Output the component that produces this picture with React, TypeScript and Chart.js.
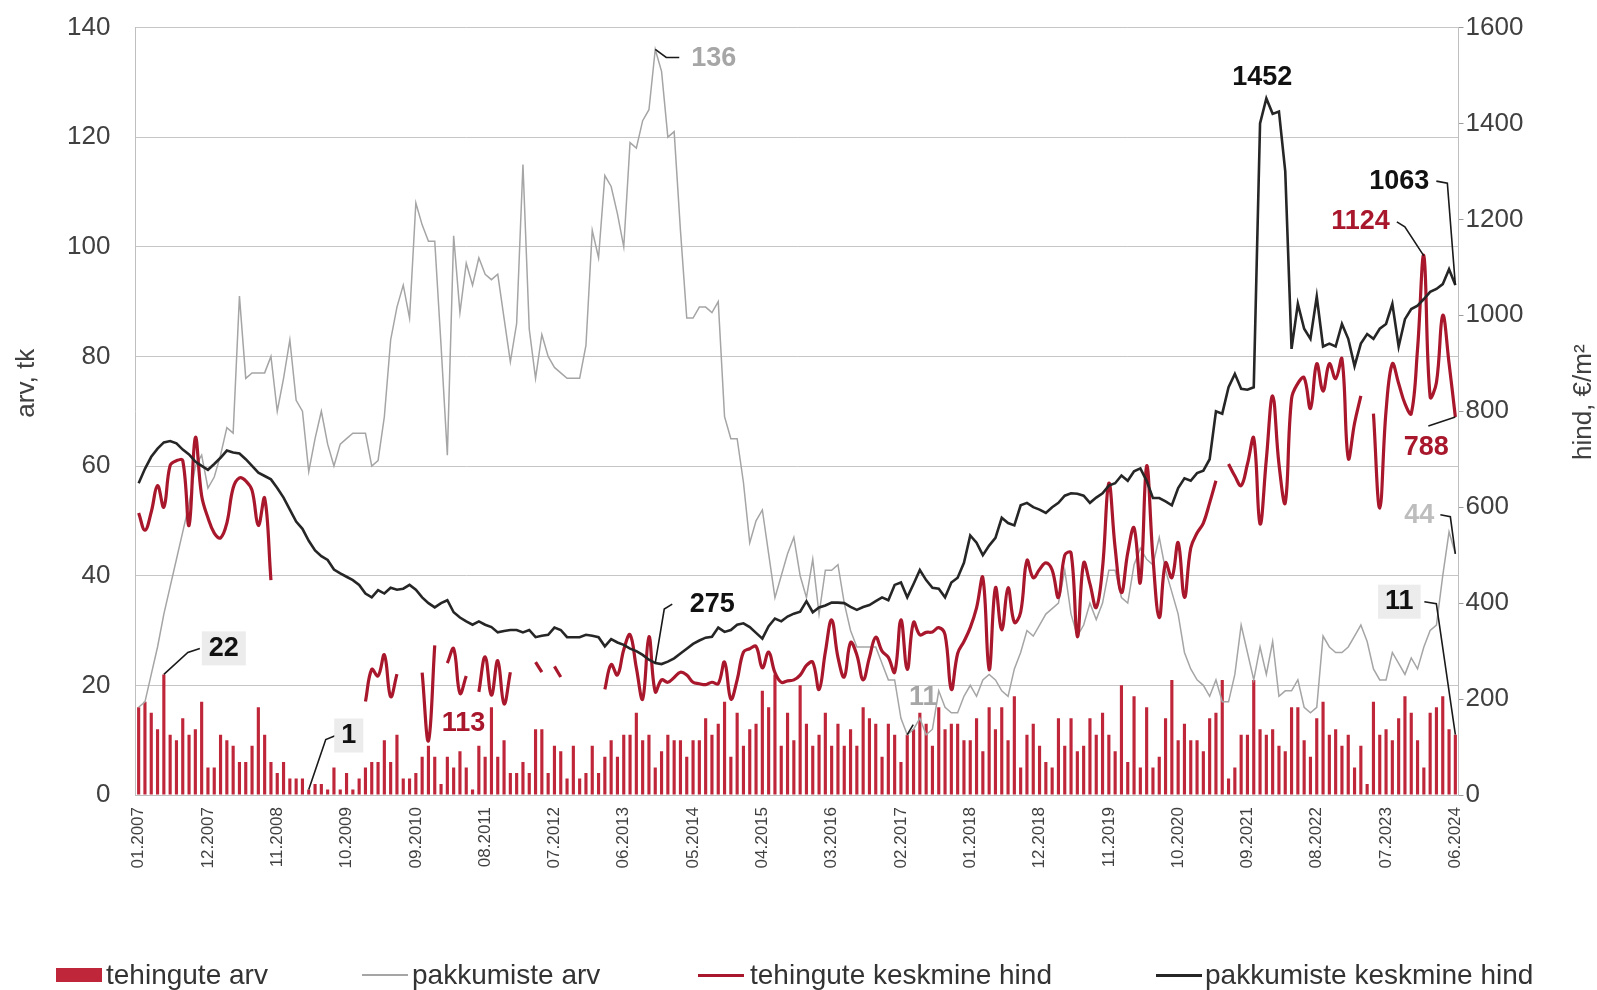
import React, { useEffect, useRef } from 'react';
import { Chart, registerables } from 'chart.js';

Chart.register(...registerables);

const FONT = "'Liberation Sans', Arial, Helvetica, sans-serif";

// Monthly categories 01.2007 .. 06.2024
const MONTHS: string[] = [];
for (let i = 0; i < 210; i++) {
  const m = (i % 12) + 1;
  const y = 2007 + Math.floor(i / 12);
  MONTHS.push(`${m < 10 ? '0' + m : m}.${y}`);
}

const TICK_LABELS = [
  '01.2007', '12.2007', '11.2008', '10.2009', '09.2010', '08.2011', '07.2012',
  '06.2013', '05.2014', '04.2015', '03.2016', '02.2017', '01.2018', '12.2018',
  '11.2019', '10.2020', '09.2021', '08.2022', '07.2023', '06.2024',
];

const LEFT_TITLE = 'arv, tk';
const RIGHT_TITLE = 'hind, €/m²';

// tehingute arv (bars, left axis)
const DEALS = [
  16, 17, 15, 12, 22, 11, 10, 14, 11, 12,
  17, 5, 5, 11, 10, 9, 6, 6, 9, 16,
  11, 6, 4, 6, 3, 3, 3, 1, 2, 2,
  1, 5, 1, 4, 1, 3, 5, 6, 6, 10,
  6, 11, 3, 3, 4, 7, 9, 7, 2, 7,
  5, 8, 5, 1, 9, 7, 16, 7, 10, 4,
  4, 6, 4, 12, 12, 4, 9, 8, 3, 9,
  3, 4, 9, 4, 7, 10, 7, 11, 11, 15,
  10, 11, 5, 8, 11, 10, 10, 7, 10, 10,
  14, 11, 13, 17, 7, 15, 9, 12, 13, 19,
  16, 22, 9, 15, 10, 20, 13, 9, 11, 15,
  9, 13, 9, 12, 9, 16, 14, 13, 7, 13,
  11, 6, 11, 12, 15, 13, 9, 16, 12, 13,
  13, 10, 10, 14, 8, 16, 12, 16, 10, 18,
  5, 11, 13, 9, 6, 5, 14, 9, 14, 8,
  9, 14, 11, 15, 11, 8, 20, 6, 18, 5,
  16, 5, 7, 14, 21, 10, 13, 10, 10, 8,
  14, 15, 21, 3, 5, 11, 11, 21, 12, 11,
  12, 9, 8, 16, 16, 10, 7, 14, 17, 11,
  12, 9, 11, 5, 9, 2, 17, 11, 12, 10,
  14, 18, 15, 10, 5, 15, 16, 18, 12, 11,
];

// pakkumiste arv (grey line, left axis)
const OFFERS = [
  16, 17, 22, 27, 33, 38, 43, 48, 53, 60,
  62, 56, 58, 62, 67, 66, 91, 76, 77, 77,
  77, 80, 70, 76, 83, 72, 70, 59, 65, 70,
  64, 60, 64, 65, 66, 66, 66, 60, 61, 69,
  83, 89, 93, 87, 108, 104, 101, 101, 82, 62,
  102, 88, 97, 93, 98, 95, 94, 95, 87, 79,
  86, 115, 85, 76, 84, 80, 78, 77, 76, 76,
  76, 82, 103, 98, 113, 111, 106, 100, 119, 118,
  123, 125, 136, 132, 120, 121, 103, 87, 87, 89,
  89, 88, 90, 69, 65, 65, 57, 46, 50, 52,
  44, 36, 40, 44, 47, 40, 36, 43, 33, 41,
  41, 42, 35, 30, 27, 27, 27, 27, 24, 21,
  21, 14, 11, 12, 14, 11, 12, 19, 16, 15,
  15, 18, 20, 18, 21, 22, 21, 19, 18, 23,
  26, 30, 29, 31, 33, 34, 35, 41, 33, 29,
  31, 35, 32, 35, 41, 41, 36, 35, 42, 45,
  43, 42, 47, 41, 37, 33, 26, 23, 21, 20,
  18, 21, 17, 17, 22, 31, 26, 21, 27, 22,
  28, 18, 19, 19, 21, 16, 15, 16, 29, 27,
  26, 26, 27, 29, 31, 28, 23, 21, 21, 26,
  24, 22, 25, 23, 27, 30, 31, 40, 48, 44,
];

// tehingute keskmine hind (red line, right axis), gaps = null
const DEAL_PRICE: (number | null)[] = [
  588, 552, 590, 645, 600, 687, 697, 697, 562, 745,
  624, 578, 546, 536, 567, 640, 661, 655, 635, 562,
  619, 448, null, null, null, null, null, null, null, null,
  null, null, null, null, null, null, 195, 262, 248, 292,
  205, 252, null, null, null, 255, 113, 312, null, 275,
  305, 212, 248, null, 215, 288, 208, 280, 190, 256,
  null, null, null, 277, 256, null, 268, 246, null, null,
  null, null, null, null, 220, 272, 250, 303, 334, 265,
  200, 330, 215, 240, 235, 245, 256, 250, 235, 232,
  230, 235, 232, 277, 200, 240, 298, 305, 310, 265,
  298, 255, 235, 238, 240, 250, 270, 277, 220, 298,
  365, 287, 246, 318, 292, 240, 287, 329, 300, 287,
  256, 365, 262, 360, 334, 339, 340, 349, 334, 220,
  295, 320, 349, 390, 453, 261, 432, 344, 432, 360,
  381, 489, 453, 470, 484, 469, 412, 500, 505, 330,
  484, 440, 391, 474, 650, 515, 422, 505, 557, 443,
  686, 495, 370, 484, 453, 526, 412, 515, 546, 567,
  609, 655, null, 690, 665, 645, 690, 744, 565, 700,
  832, 690, 609, 826, 858, 870, 806, 899, 842, 899,
  868, 909, 702, 775, 832, null, 795, 598, 801, 899,
  858, 816, 795, 930, 1124, 830, 860, 1000, 900, 788,
];

// pakkumiste keskmine hind (black line, right axis)
const OFFER_PRICE = [
  650, 680, 705, 722, 735, 738, 733, 720, 710, 695,
  686, 678, 690, 703, 718, 714, 712, 700, 686, 672,
  665, 658, 640, 620, 595, 570, 555, 530, 510, 498,
  490, 470, 462, 455, 448, 438, 420, 412, 427, 420,
  432, 428, 430, 438, 428, 412, 400, 391, 400, 406,
  381, 370, 362, 355, 362, 355, 350, 339, 342, 344,
  344, 339, 344, 329, 332, 334, 349, 344, 329, 329,
  329, 334, 332, 329, 310, 325, 318, 313, 305, 300,
  292, 282, 275, 273, 278, 285, 295, 305, 315, 322,
  328, 330, 349, 340, 344, 355, 358, 350, 338, 326,
  352, 368, 362, 372, 378, 382, 404, 381, 391, 395,
  401, 401, 400, 392, 386, 392, 396, 404, 412, 406,
  438, 443, 412, 440, 469, 448, 432, 430, 412, 443,
  453, 484, 541, 526, 500, 520, 536, 578, 567, 562,
  604, 609, 600, 595, 588, 600, 609, 624, 629, 628,
  624, 609, 620, 629, 645, 650, 666, 655, 675, 681,
  655, 619, 619, 612, 604, 640, 660, 655, 671, 676,
  700, 800, 795, 850, 878, 847, 845, 850, 1400, 1452,
  1420, 1425, 1300, 930, 1024, 972, 951, 1039, 935, 941,
  935, 982, 951, 894, 941, 961, 951, 972, 982, 1024,
  935, 992, 1013, 1020, 1034, 1049, 1055, 1065, 1096, 1063,
];

const C_BAR = '#bf2639';
const C_GRAY = '#a5a5a5';
const C_RED = '#a8172b';
const C_BLACK = '#262626';
const C_TEXT = '#404040';

type Note = {
  text: string; index: number; value: number; axis: 'y' | 'y1';
  color: string; dx: number; dy: number; align: 'left' | 'center' | 'right';
  leader?: number[][]; box?: boolean;
};

const NOTES: Note[] = [
  { text: '136', index: 82, value: OFFERS[82], axis: 'y', color: '#a6a6a6', dx: 36, dy: 9, align: 'left', leader: [[11, 8], [24, 8]] },
  { text: '1452', index: 179, value: OFFER_PRICE[179], axis: 'y1', color: '#111', dx: -4, dy: -21, align: 'center' },
  { text: '1063', index: 209, value: OFFER_PRICE[209], axis: 'y1', color: '#111', dx: -26, dy: -104, align: 'right', leader: [[-8, -102], [-19, -104]] },
  { text: '1124', index: 204, value: DEAL_PRICE[204] as number, axis: 'y1', color: C_RED, dx: -34, dy: -34, align: 'right', leader: [[-19, -29], [-27, -34]] },
  { text: '788', index: 209, value: DEAL_PRICE[209] as number, axis: 'y1', color: C_RED, dx: -29, dy: 31, align: 'center', leader: [[-27, 9]] },
  { text: '44', index: 209, value: OFFERS[209], axis: 'y', color: '#bdbdbd', dx: -36, dy: -38, align: 'center', leader: [[-5, -37], [-15, -39]] },
  { text: '11', index: 209, value: DEALS[209], axis: 'y', color: '#111', dx: -56, dy: -133, align: 'center', leader: [[-19, -131], [-31, -133]], box: true },
  { text: '22', index: 4, value: DEALS[4], axis: 'y', color: '#111', dx: 60, dy: -26, align: 'center', leader: [[24, -22], [36, -26]], box: true },
  { text: '1', index: 27, value: DEALS[27], axis: 'y', color: '#111', dx: 40, dy: -54, align: 'center', leader: [[17, -50], [27, -54]], box: true },
  { text: '113', index: 46, value: DEAL_PRICE[46] as number, axis: 'y1', color: C_RED, dx: 35, dy: -17, align: 'center' },
  { text: '275', index: 82, value: OFFER_PRICE[82], axis: 'y1', color: '#111', dx: 57, dy: -59, align: 'center', leader: [[9, -54], [17, -59]] },
  { text: '11', index: 122, value: OFFERS[122], axis: 'y', color: '#a6a6a6', dx: 16, dy: -37, align: 'center', leader: [[6, -10]] },
];

const notesPlugin = {
  id: 'notes',
  afterDatasetsDraw(chart: any) {
    const ctx = chart.ctx as CanvasRenderingContext2D;
    const xs = chart.scales.x;
    for (const n of NOTES) {
      const px = xs.getPixelForValue(n.index);
      const py = chart.scales[n.axis].getPixelForValue(n.value);
      ctx.save();
      if (n.leader) {
        ctx.beginPath();
        ctx.moveTo(px, py);
        for (const [dx, dy] of n.leader) ctx.lineTo(px + dx, py + dy);
        ctx.strokeStyle = '#1a1a1a';
        ctx.lineWidth = 1.6;
        ctx.stroke();
      }
      ctx.font = `bold 27px ${FONT}`;
      const tx = px + n.dx;
      const ty = py + n.dy;
      const w = ctx.measureText(n.text).width;
      const left = n.align === 'left' ? tx : n.align === 'right' ? tx - w : tx - w / 2;
      if (n.box) {
        ctx.fillStyle = '#ececec';
        ctx.fillRect(left - 7, ty - 17, w + 14, 34);
      }
      ctx.fillStyle = n.color;
      ctx.textBaseline = 'middle';
      ctx.textAlign = 'left';
      ctx.fillText(n.text, left, ty);
      ctx.restore();
    }
  },
};

// Axis titles, both rotated to read bottom-to-top
const titlesPlugin = {
  id: 'axisTitles',
  afterDraw(chart: any) {
    const ctx = chart.ctx as CanvasRenderingContext2D;
    const area = chart.chartArea;
    const mid = (area.top + area.bottom) / 2;
    const items = [
      { text: LEFT_TITLE, x: 27, y: mid - 28 },
      { text: RIGHT_TITLE, x: chart.width - 13, y: mid - 9 },
    ];
    for (const it of items) {
      ctx.save();
      ctx.translate(it.x, it.y);
      ctx.rotate(-Math.PI / 2);
      ctx.font = `26px ${FONT}`;
      ctx.fillStyle = C_TEXT;
      ctx.textAlign = 'center';
      ctx.textBaseline = 'middle';
      ctx.fillText(it.text, 0, 0);
      ctx.restore();
    }
  },
};

const LEGEND = [
  { label: 'tehingute arv', kind: 'bar', color: C_BAR, sx: 56, tx: 106, lw: 0 },
  { label: 'pakkumiste arv', kind: 'line', color: C_GRAY, sx: 362, tx: 412, lw: 2 },
  { label: 'tehingute keskmine hind', kind: 'line', color: C_RED, sx: 698, tx: 750, lw: 3 },
  { label: 'pakkumiste keskmine hind', kind: 'line', color: C_BLACK, sx: 1156, tx: 1205, lw: 3 },
];

export default function App() {
  const ref = useRef<HTMLCanvasElement | null>(null);

  useEffect(() => {
    if (!ref.current) return;
    const chart = new Chart(ref.current, {
      type: 'bar',
      data: {
        labels: MONTHS,
        datasets: [
          {
            type: 'line', label: 'pakkumiste keskmine hind', data: OFFER_PRICE, yAxisID: 'y1',
            borderColor: C_BLACK, borderWidth: 2.6, pointRadius: 0, tension: 0, order: 1,
          },
          {
            type: 'line', label: 'tehingute keskmine hind', data: DEAL_PRICE, yAxisID: 'y1',
            borderColor: C_RED, borderWidth: 3.2, pointRadius: 0, tension: 0.4, spanGaps: false, order: 2,
          },
          {
            type: 'line', label: 'pakkumiste arv', data: OFFERS, yAxisID: 'y',
            borderColor: C_GRAY, borderWidth: 1.5, pointRadius: 0, tension: 0, order: 3,
          },
          {
            type: 'bar', label: 'tehingute arv', data: DEALS, yAxisID: 'y',
            backgroundColor: C_BAR, barPercentage: 0.5, categoryPercentage: 1, order: 4,
          },
        ] as any,
      },
      options: {
        animation: false,
        responsive: true,
        maintainAspectRatio: false,
        layout: { padding: { top: 27.5, left: 0, right: 0, bottom: 0 } },
        plugins: { legend: { display: false }, tooltip: { enabled: false } },
        scales: {
          x: {
            type: 'category',
            offset: true,
            grid: { display: false, drawTicks: false },
            border: { display: true, color: '#bfbfbf' },
            ticks: {
              autoSkip: false, minRotation: 90, maxRotation: 90, padding: 12,
              color: C_TEXT, font: { family: FONT, size: 17 },
              callback: (_v: any, idx: number) => (TICK_LABELS.includes(MONTHS[idx]) ? MONTHS[idx] : null),
            },
            afterFit: (s: any) => { s.height = 195; },
          },
          y: {
            position: 'left', min: 0, max: 140,
            grid: { color: '#c6c6c6', drawTicks: true, tickLength: 23, tickColor: 'rgba(0,0,0,0)' },
            border: { display: true, color: '#bfbfbf' },
            ticks: { stepSize: 20, padding: 2, color: C_TEXT, font: { family: FONT, size: 26 } },
            afterFit: (s: any) => { s.width = 135.5; },
          },
          y1: {
            position: 'right', min: 0, max: 1600,
            grid: { drawOnChartArea: false, drawTicks: true, tickLength: 5, color: '#9a9a9a' },
            border: { display: true, color: '#bfbfbf' },
            ticks: {
              stepSize: 200, padding: 2, color: C_TEXT, font: { family: FONT, size: 26 },
              callback: (v: any) => String(v),
            },
            afterFit: (s: any) => { s.width = 138.5; },
          },
        },
      } as any,
      plugins: [notesPlugin, titlesPlugin],
    });
    return () => chart.destroy();
  }, []);

  return (
    <div style={{ position: 'fixed', left: 0, top: 0, width: 1597, height: 990, background: '#fff', overflow: 'hidden' }}>
      <div style={{ position: 'absolute', left: 0, top: 0, width: 1597, height: 990 }}>
        <canvas ref={ref} />
      </div>
      {LEGEND.map((it) => (
        <React.Fragment key={it.label}>
          <div
            style={{
              position: 'absolute', left: it.sx, width: 46,
              top: it.kind === 'bar' ? 968 : 975 - it.lw / 2,
              height: it.kind === 'bar' ? 14 : it.lw,
              background: it.color,
            }}
          />
          <div
            style={{
              position: 'absolute', left: it.tx, top: 960, height: 30, lineHeight: '30px',
              fontFamily: FONT, fontSize: 28, color: '#333', whiteSpace: 'nowrap',
            }}
          >
            {it.label}
          </div>
        </React.Fragment>
      ))}
    </div>
  );
}
